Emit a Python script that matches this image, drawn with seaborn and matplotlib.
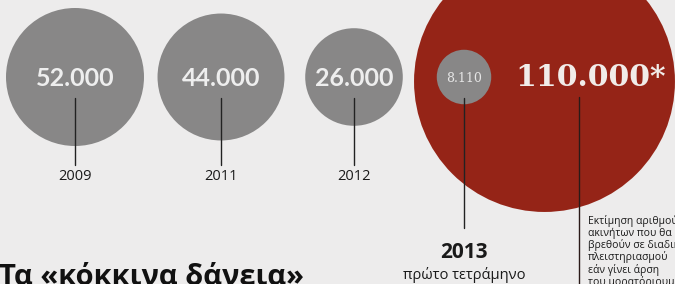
import matplotlib
matplotlib.use('Agg')
import pandas as pd
import matplotlib.pyplot as plt
import seaborn as sns

# data
years = ['2009', '2011', '2012', '2013']
loans = [52000, 44000, 26000, 8110]
loan_labels = ['52.000', '44.000', '26.000', '8.110']
estimate = 110000
estimate_label = '110.000*'
title = 'Τα «κόκκινα δάνεια»'
sub_2013 = 'πρώτο τετράμηνο'
note = ('Εκτίμηση αριθμού\nακινήτων που θα\nβρεθούν σε διαδικασία\n'
        'πλειστηριασμού\nεάν γίνει άρση\nτου μορατόριουμ')

# layout (pixels)
W, H, DPI = 675, 284, 100
x_pos = [75, 221, 354, 464]
y_pos = [77, 77, 77, 77]
est_x, est_y = 544, 81
px_per_sqrt = 69 / 52000 ** 0.5        # radius of 52.000 circle = 69 px
emphasis = 1.3                          # estimate drawn larger
bg = '#edecec'
grey = '#888787'
red = '#952417'

sns.set_theme(style='white')
plt.rcParams['font.family'] = ['Open Sans', 'DejaVu Sans']

fig = plt.figure(figsize=(W / DPI, H / DPI), dpi=DPI, facecolor=bg)
ax = fig.add_axes([0, 0, 1, 1])
ax.set_facecolor(bg)
ax.set_xlim(0, W)
ax.set_ylim(H, 0)
ax.axis('off')

# marker area in pt^2 per unit of value (area proportional to value)
pt = 72 / DPI
area_per_value = (2 * px_per_sqrt * pt) ** 2

sns.scatterplot(x=[est_x], y=[est_y], s=area_per_value * estimate * emphasis ** 2,
                color=red, linewidth=0, ax=ax, legend=False, zorder=1)

df = pd.DataFrame({'year': years, 'loans': loans, 'x': x_pos, 'y': y_pos})
sns.scatterplot(data=df, x='x', y='y', size='loans',
                sizes=(0, area_per_value * 52000), size_norm=(0, 52000),
                color=grey, linewidth=0, ax=ax, legend=False, zorder=2)

# leader lines
for i, yr in enumerate(years):
    y_end = 165 if i < 3 else 228
    ax.plot([x_pos[i], x_pos[i]], [98, y_end], color='#222222', lw=1, zorder=3)
ax.plot([579, 579], [97, H + 5], color='#2a1a18', lw=1, zorder=3)

# value labels
for i, lab in enumerate(loan_labels[:3]):
    ax.text(x_pos[i], 78, lab, ha='center', va='center', color='#eeeeee',
            fontsize=18, fontweight='bold', family=['Lato', 'DejaVu Sans'], zorder=4)
ax.text(x_pos[3], 79, loan_labels[3], ha='center', va='center', color='#e6e6e6',
        fontsize=9, family='DejaVu Serif', zorder=4)
ax.text(591, 77, estimate_label, ha='center', va='center', color='#f1ece9',
        fontsize=21.5, fontweight='bold', family='DejaVu Serif', zorder=4)

# year labels
for i, yr in enumerate(years[:3]):
    ax.text(x_pos[i], 176, yr, ha='center', va='center', color='#1a1a1a', fontsize=10.5)
ax.text(x_pos[3], 252, years[3], ha='center', va='center', color='#1a1a1a',
        fontsize=15, fontweight='bold')
ax.text(x_pos[3], 275, sub_2013, ha='center', va='center', color='#1a1a1a', fontsize=10.5)

ax.text(588, 215, note, ha='left', va='top', color='#1a1a1a', fontsize=7.5,
        linespacing=1.05)

ax.text(-1, 285, title, ha='left', va='baseline', color='#111111',
        fontsize=21, fontweight='bold')

fig.savefig('out.png', dpi=DPI, facecolor=bg)
